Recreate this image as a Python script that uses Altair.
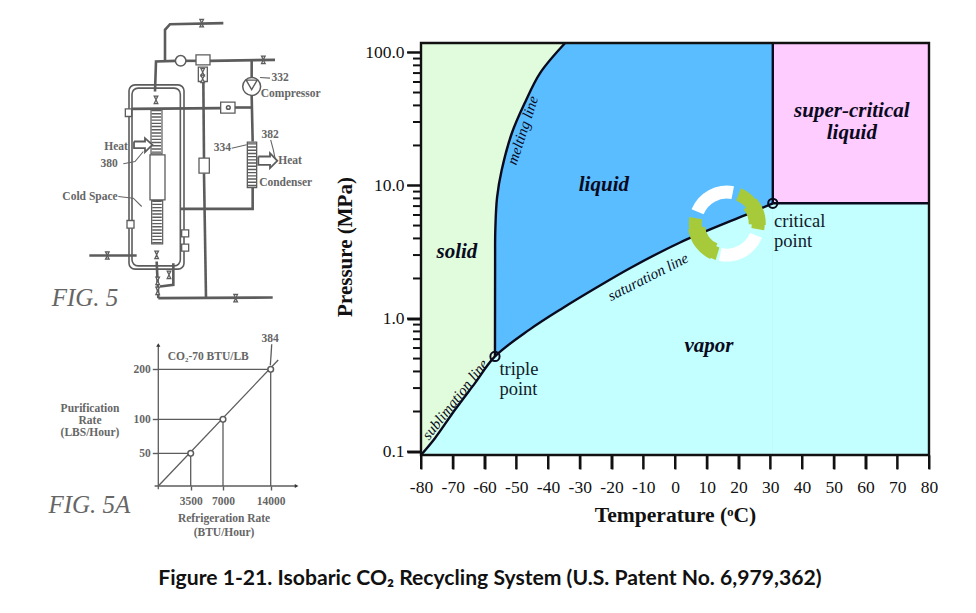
import math
import altair as alt
import pandas as pd

# ---------- phase diagram data (temperature in C, pressure in MPa) ----------
P_BOTTOM, P_TOP, P_SCALE_TOP = 0.0942, 117.8, 215.9
P_TICK_END = 0.0738
T_MAJOR_END, T_MINOR_END = -84.41, -82.52
T_TRIPLE, P_TRIPLE = -56.7, 0.519
T_CRIT, P_CRIT = 30.8, 7.35
melt_t = [-56.7, -56.68, -56.66, -56.6, -56.05, -54.6, -51.4, -47.2, -42.5, -34.6]
melt_p = [0.519, 1.36, 2.72, 4.57, 8.11, 13.0, 24.7, 42.3, 70.0, 117.8]
sub_t = [-80, -75.6, -69.3, -63, -56.7]
sub_p = [0.0942, 0.126, 0.206, 0.327, 0.519]
sat_t = [-56.7, -45.7, -35.2, -24.7, -14.2, 1.6, 23.6, 30.8]
sat_p = [0.519, 0.829, 1.206, 1.71, 2.39, 3.73, 6.2, 7.35]
major_p = [0.1, 1, 10, 100]
minor_p = [0.2, 0.3, 0.4, 0.5, 0.6, 0.7, 0.8, 0.9, 2, 3, 4, 5, 6, 7, 8, 9,
           20, 30, 40, 50, 60, 70, 80, 90]
t_ticks = list(range(-80, 81, 10))

bold_labels = ["solid", "liquid", "vapor", "super-critical", "liquid"]
bold_t = [-68.7, -22.4, 10.7, 55.7, 55.7]
bold_p = [3.18, 10, 0.62, 36.2, 24.7]
plain_labels = ["critical", "point", "triple", "point"]
plain_t = [31.2, 31.2, -55.3, -55.3]
plain_p = [5.38, 3.85, 0.416, 0.294]
line_labels = ["melting line", "saturation line", "sublimation line"]
line_t = [-48, -8.5, -69.3]
line_p = [26, 2.06, 0.247]

# ---------- FIG. 5A data ----------
refrig = [3500, 7000, 14000]
purif = [50, 100, 200]

# ---------- FIG. 5 drawing (drawing units) ----------
pipes = [
    [(580, 65), (420, 68), (405, 85), (405, 178)],
    [(375, 270), (378, 180), (437, 178)],
    [(468, 178), (500, 178)], [(540, 178), (735, 175)],
    [(665, 178), (665, 230)], [(665, 282), (668, 420)],
    [(520, 240), (522, 470)], [(522, 515), (528, 888)],
    [(305, 322), (572, 320)], [(615, 318), (665, 318)],
    [(668, 558), (668, 622), (450, 622)],
    [(385, 890), (728, 888)],
    [(380, 780), (385, 890)],
    [(430, 785), (430, 850), (390, 855)],
    [(178, 762), (320, 762)],
]
thin = [
    [(265, 585), (310, 590), (335, 615)],
    [(280, 487), (315, 480), (340, 450)],
    [(605, 440), (650, 430)],
    [(690, 228), (720, 230)],
    [(722, 415), (730, 445), (735, 470)],
]
arrows = [
    [(312, 420), (345, 420), (345, 410), (367, 430), (345, 452), (345, 440), (312, 440), (312, 420)],
    [(685, 465), (720, 465), (720, 455), (742, 478), (720, 500), (720, 490), (685, 490), (685, 465)],
]
boxes = [
    (498, 160, 540, 190), (505, 197, 532, 240), (572, 302, 615, 335), (507, 470, 538, 515),
    (286, 322, 305, 345), (291, 657, 312, 680), (455, 685, 476, 706), (455, 728, 476, 749),
    (360, 460, 405, 595), (652, 422, 680, 558),
]
valves_x = [515, 700, 617, 232, 378, 380, 383, 383, 518, 518, 417]
valves_y = [65, 175, 890, 762, 295, 760, 838, 868, 212, 232, 820]
fig5_labels = ["Heat", "380", "Cold Space", "332", "Compressor", "382", "334", "Heat", "Condenser"]
fig5_x = [258, 237, 180, 750, 782, 720, 577, 780, 767]
fig5_y = [437, 487, 585, 229, 277, 401, 440, 477, 545]

PANEL_W = 320
GRAY = "#5c5c5c"
TYPE = "Liberation Serif"
SERIF = "Liberation Serif"


def frame(paths):
    return pd.DataFrame([
        {"p": i, "k": k, "x": a, "y": b}
        for i, path in enumerate(paths) for k, (a, b) in enumerate(path)
    ])


sx = alt.Scale(domain=[-66, 894], nice=False, zero=False)
sy = alt.Scale(domain=[19.5, 985.5], nice=False, zero=False, reverse=True)
X = alt.X("x:Q", scale=sx, axis=None)
Y = alt.Y("y:Q", scale=sy, axis=None)


def path_layer(paths, **kw):
    return alt.Chart(frame(paths)).mark_line(**kw).encode(X, Y, detail="p:N", order="k:Q")


box_df = pd.DataFrame(boxes, columns=["x", "y", "x2", "y2"])
vessel = pd.DataFrame([(297, 250, 462, 803), (306, 260, 451, 793)], columns=["x", "y", "x2", "y2"])
hatch = frame([[(379, 325), (379, 455)], [(381, 597), (381, 725)], [(666, 425), (666, 556)]])
coil = pd.DataFrame([(363, 325, 396, 457), (365, 597, 398, 727)], columns=["x", "y", "x2", "y2"])

fig5 = alt.layer(
    alt.Chart(vessel).mark_rect(fillOpacity=0, stroke=GRAY, strokeWidth=1.6, cornerRadius=6).encode(
        X, Y, x2="x2:Q", y2="y2:Q"),
    path_layer(pipes, color=GRAY, strokeWidth=2.6),
    alt.Chart(box_df).mark_rect(fill="white", stroke=GRAY, strokeWidth=1.3).encode(X, Y, x2="x2:Q", y2="y2:Q"),
    alt.Chart(coil).mark_rect(fill="white", stroke=GRAY, strokeWidth=1.2).encode(X, Y, x2="x2:Q", y2="y2:Q"),
    alt.Chart(hatch).mark_line(color=GRAY, strokeWidth=9.5, strokeDash=[1.4, 1.8]).encode(X, Y, detail="p:N", order="k:Q"),
    path_layer(thin, color="#666666", strokeWidth=1.1),
    path_layer(arrows, color=GRAY, strokeWidth=1.8, fill="white"),
    alt.Chart(pd.DataFrame({"x": valves_x, "y": valves_y})).mark_point(
        shape="M-0.5,-1L0.5,-1L-0.5,1L0.5,1Z", size=55, filled=True, fill="#dddddd", stroke=GRAY, strokeWidth=1.2, opacity=1
    ).encode(X, Y),
    alt.Chart(pd.DataFrame({"x": [452, 665, 595], "y": [178, 255, 318], "s": [110, 320, 14]})).mark_point(
        shape="circle", filled=True, fill="white", stroke=GRAY, strokeWidth=1.5, opacity=1
    ).encode(X, Y, size=alt.Size("s:Q", scale=None, legend=None)),
    alt.Chart(pd.DataFrame({"x": [665], "y": [250]})).mark_point(
        shape="triangle-down", size=120, filled=False, stroke=GRAY, strokeWidth=1.4, opacity=1
    ).encode(X, Y),
    alt.Chart(pd.DataFrame({"t": fig5_labels, "x": fig5_x, "y": fig5_y})).mark_text(
        font=TYPE, fontSize=11.5, fontWeight="bold", color="#666666"
    ).encode(X, Y, text="t:N"),
    alt.Chart(pd.DataFrame({"t": ["FIG.  5"], "x": [165], "y": [888]})).mark_text(
        font=SERIF, fontSize=25, fontStyle="italic", color="#666666"
    ).encode(X, Y, text="t:N"),
).properties(width=PANEL_W, height=322)

# ---------- FIG. 5A panel ----------
ax = alt.Scale(domain=[-16240, 0, 3500, 7000, 14000, 22410], range=[0, 150.3, 182.7, 215, 262.7, 320], nice=False, zero=False)
ay = alt.Scale(domain=[-98, 0, 50, 100, 200, 278.6], range=[220, 156, 123.3, 89.3, 39.3, 0], nice=False, zero=False)
AX_AXIS = alt.Axis(
    orient="bottom", offset=-64, values=refrig, title=None, domain=False, grid=False, tickColor=GRAY,
    tickSize=4, tickWidth=1.4, labelFont=TYPE, labelFontSize=11.5, labelFontWeight="bold", labelColor="#666666",
    labelPadding=5, format="d")
AY_AXIS = alt.Axis(
    orient="left", offset=-150.3, values=purif, title=None, domain=False, grid=False, tickColor=GRAY,
    tickSize=6, tickWidth=1.4, labelFont=TYPE, labelFontSize=11.5, labelFontWeight="bold", labelColor="#666666",
    labelPadding=2)
BX = alt.X("x:Q", scale=ax, axis=AX_AXIS)
BY = alt.Y("y:Q", scale=ay, axis=AY_AXIS)
a_df = pd.DataFrame({"x": refrig, "y": purif})
a_lines = frame(
    [[(0, 248.6), (0, -5)], [(-400, 0), (17800, 0)], [(0, 0), (15100, 218.6)],
     [(13950, 208), (14150, 250)]]
    + [[(0, p), (r, p)] for r, p in zip(refrig, purif)]
    + [[(r, 0), (r, p)] for r, p in zip(refrig, purif)]
)
a_texts = ["Purification", "Rate", "(LBS/Hour)", "Refrigeration Rate", "(BTU/Hour)", "CO₂-70 BTU/LB", "384"]
a_tx = [-7380, -7380, -7380, 7150, 7150, 5400, 13900]
a_ty = [120, 97.5, 80, -51, -72, 224, 260]
fig5a = alt.layer(
    alt.Chart(a_lines).mark_line(color=GRAY, strokeWidth=1.3).encode(BX, BY, detail="p:N", order="k:Q"),
    alt.Chart(a_df).mark_point(shape="circle", size=32, filled=True, fill="white", stroke=GRAY, strokeWidth=1.5, opacity=1).encode(BX, BY),
    alt.Chart(pd.DataFrame({"x": [0], "y": [248.6]})).mark_point(shape="triangle-up", size=18, filled=True, color="#333333", opacity=1).encode(BX, BY),
    alt.Chart(pd.DataFrame({"x": [17800], "y": [0]})).mark_point(shape="triangle-right", size=18, filled=True, color="#333333", opacity=1).encode(BX, BY),
    alt.Chart(pd.DataFrame({"t": a_texts, "x": a_tx, "y": a_ty})).mark_text(
        font=TYPE, fontSize=11.5, fontWeight="bold", color="#666666").encode(BX, BY, text="t:N"),
    alt.Chart(pd.DataFrame({"t": ["FIG.  5A"], "x": [-7450], "y": [-29]})).mark_text(
        font=SERIF, fontSize=25, fontStyle="italic", color="#666666").encode(BX, BY, text="t:N"),
).properties(width=PANEL_W, height=220)

left = alt.vconcat(fig5, fig5a, spacing=0)

# ---------- phase diagram ----------
PLOT_H = 447
tsc = alt.Scale(domain=[-80, 80], nice=False, zero=False)
psc = alt.Scale(type="log", domain=[P_BOTTOM, P_SCALE_TOP], nice=False)
T_AXIS = alt.Axis(
    values=t_ticks, labelExpr="'' + datum.value", title="Temperature (ᵒC)", grid=False, domain=False,
    ticks=True, tickSize=14, tickWidth=2, tickColor="#111111", labelFont=SERIF, labelFontSize=17.5, labelColor="#111111",
    labelPadding=9, labelOverlap=False, labelFlush=False, titleFont=SERIF, titleFontSize=21.6, titleFontWeight="bold",
    titleColor="#111111", titlePadding=9)
P_AXIS = alt.Axis(
    values=major_p, format=".1f", title="Pressure (MPa)", grid=False, domain=False,
    ticks=True, tickSize=14, tickWidth=2, tickColor="#111111", labelFont=SERIF, labelFontSize=17.5, labelColor="#111111",
    labelPadding=3, labelOverlap=False, labelFlush=False, titleFont=SERIF, titleFontSize=21, titleFontWeight="bold",
    titleColor="#111111", titlePadding=9, titleY=238.5)
TN = alt.X("t:Q", scale=tsc, axis=T_AXIS)
PN = alt.Y("p:Q", scale=psc, axis=P_AXIS)

melt_df = pd.DataFrame({"t": melt_t, "p": melt_p})
vap_df = pd.DataFrame({"t": sub_t + sat_t[1:], "p": sub_p + sat_p[1:]})
ARC_CENTER = pd.DataFrame({"t": [16.3], "p": [5.17]})
ONE = pd.DataFrame({"a": [0]})

tick_rows = []
for n, v in enumerate(major_p):
    tick_rows += [{"g": f"M{n}", "t": T_MAJOR_END, "p": v, "k": 0}, {"g": f"M{n}", "t": -80, "p": v, "k": 1}]
for n, v in enumerate(minor_p):
    tick_rows += [{"g": f"m{n}", "t": T_MINOR_END, "p": v, "k": 0}, {"g": f"m{n}", "t": -80, "p": v, "k": 1}]
for n, v in enumerate(t_ticks):
    tick_rows += [{"g": f"x{n}", "t": v, "p": P_BOTTOM, "k": 0}, {"g": f"x{n}", "t": v, "p": P_TICK_END, "k": 1}]
tick_df = pd.DataFrame(tick_rows)


def arc(color, a0, a1, r0=25, r1=38):
    return alt.Chart(ARC_CENTER).mark_arc(
        color=color, theta=math.radians(a0), theta2=math.radians(a1), radius=r1, radius2=r0
    ).encode(TN, PN)


def rect(t0, t1, p0, p1, **kw):
    return alt.Chart(ONE).mark_rect(**kw).encode(
        x=alt.X(datum=t0, scale=tsc, axis=T_AXIS), x2=alt.X2(datum=t1),
        y=alt.Y(datum=p0, scale=psc, axis=P_AXIS), y2=alt.Y2(datum=p1))


CURVE = "catmull-rom"
right = alt.layer(
    rect(-80, 80, P_BOTTOM, P_TOP, color="#E0FCDC"),
    alt.Chart(melt_df).mark_area(color="#5ABDFF", interpolate=CURVE).encode(TN, PN, y2=alt.Y2(datum=P_BOTTOM)),
    rect(melt_t[-1] - 0.1, T_CRIT, P_BOTTOM, P_TOP, color="#5ABDFF"),
    alt.Chart(vap_df).mark_area(color="#C4FFFF", interpolate=CURVE).encode(TN, PN, y2=alt.Y2(datum=P_BOTTOM)),
    rect(T_CRIT - 0.1, 80, P_BOTTOM, P_CRIT, color="#C4FFFF"),
    rect(T_CRIT, 80, P_CRIT, P_TOP, color="#FFCCFF"),
    alt.Chart(melt_df).mark_line(color="#0a0a1e", strokeWidth=2.4, interpolate=CURVE).encode(TN, PN),
    alt.Chart(vap_df).mark_line(color="#0a0a1e", strokeWidth=2.4, interpolate=CURVE).encode(TN, PN),
    alt.Chart(pd.DataFrame({"t": [T_CRIT, T_CRIT, 80], "p": [P_TOP, P_CRIT, P_CRIT], "k": [0, 1, 2]})).mark_line(
        color="#0a0a1e", strokeWidth=2.4).encode(TN, PN, order="k:Q"),
    arc("#FFFFFF", 292, 371), arc("#FFFFFF", 112, 192),
    arc("#A6CA3A", 22, 100), arc("#A6CA3A", 197, 280),
    arc("#A6CA3A", 50, 92, 22, 39), arc("#A6CA3A", 205, 262, 22, 39),
    alt.Chart(pd.DataFrame({"t": [T_TRIPLE, T_CRIT], "p": [P_TRIPLE, P_CRIT]})).mark_point(
        shape="circle", size=85, filled=False, stroke="#0a0a1e", strokeWidth=2, opacity=1).encode(TN, PN),
    alt.Chart(tick_df).mark_line(color="#111111", strokeWidth=2).encode(TN, PN, detail="g:N", order="k:Q"),
    alt.Chart(pd.DataFrame({"t": bold_t, "p": bold_p, "l": bold_labels})).mark_text(
        font=SERIF, fontSize=21, fontWeight="bold", fontStyle="italic", color="#0a0a1e").encode(TN, PN, text="l:N"),
    alt.Chart(pd.DataFrame({"t": plain_t, "p": plain_p, "l": plain_labels})).mark_text(
        font=SERIF, fontSize=18.5, align="left", color="#10202a").encode(TN, PN, text="l:N"),
    alt.Chart(pd.DataFrame({"t": line_t[:1], "p": line_p[:1], "l": line_labels[:1]})).mark_text(
        font=SERIF, fontSize=15, fontStyle="italic", angle=288, color="#0a0a1e").encode(TN, PN, text="l:N"),
    alt.Chart(pd.DataFrame({"t": line_t[1:2], "p": line_p[1:2], "l": line_labels[1:2]})).mark_text(
        font=SERIF, fontSize=15, fontStyle="italic", angle=333, color="#0a0a1e").encode(TN, PN, text="l:N"),
    alt.Chart(pd.DataFrame({"t": line_t[2:], "p": line_p[2:], "l": line_labels[2:]})).mark_text(
        font=SERIF, fontSize=15, fontStyle="italic", angle=308, color="#0a0a1e").encode(TN, PN, text="l:N"),
    rect(-80, 80, P_BOTTOM, P_TOP, fillOpacity=0, stroke="#111111", strokeWidth=2.4),
).properties(width=508, height=PLOT_H)

chart = alt.hconcat(left, right, spacing=6).properties(
    padding=0,
    title=alt.TitleParams(
        "Figure 1-21. Isobaric CO₂ Recycling System (U.S. Patent No. 6,979,362)",
        orient="bottom", anchor="middle", font="Lato", fontSize=21.15, fontWeight="bold",
        color="#111111", offset=18, dx=17),
).configure_view(stroke=None)

chart.save("out.html", embed_options={"renderer": "svg", "actions": False})
